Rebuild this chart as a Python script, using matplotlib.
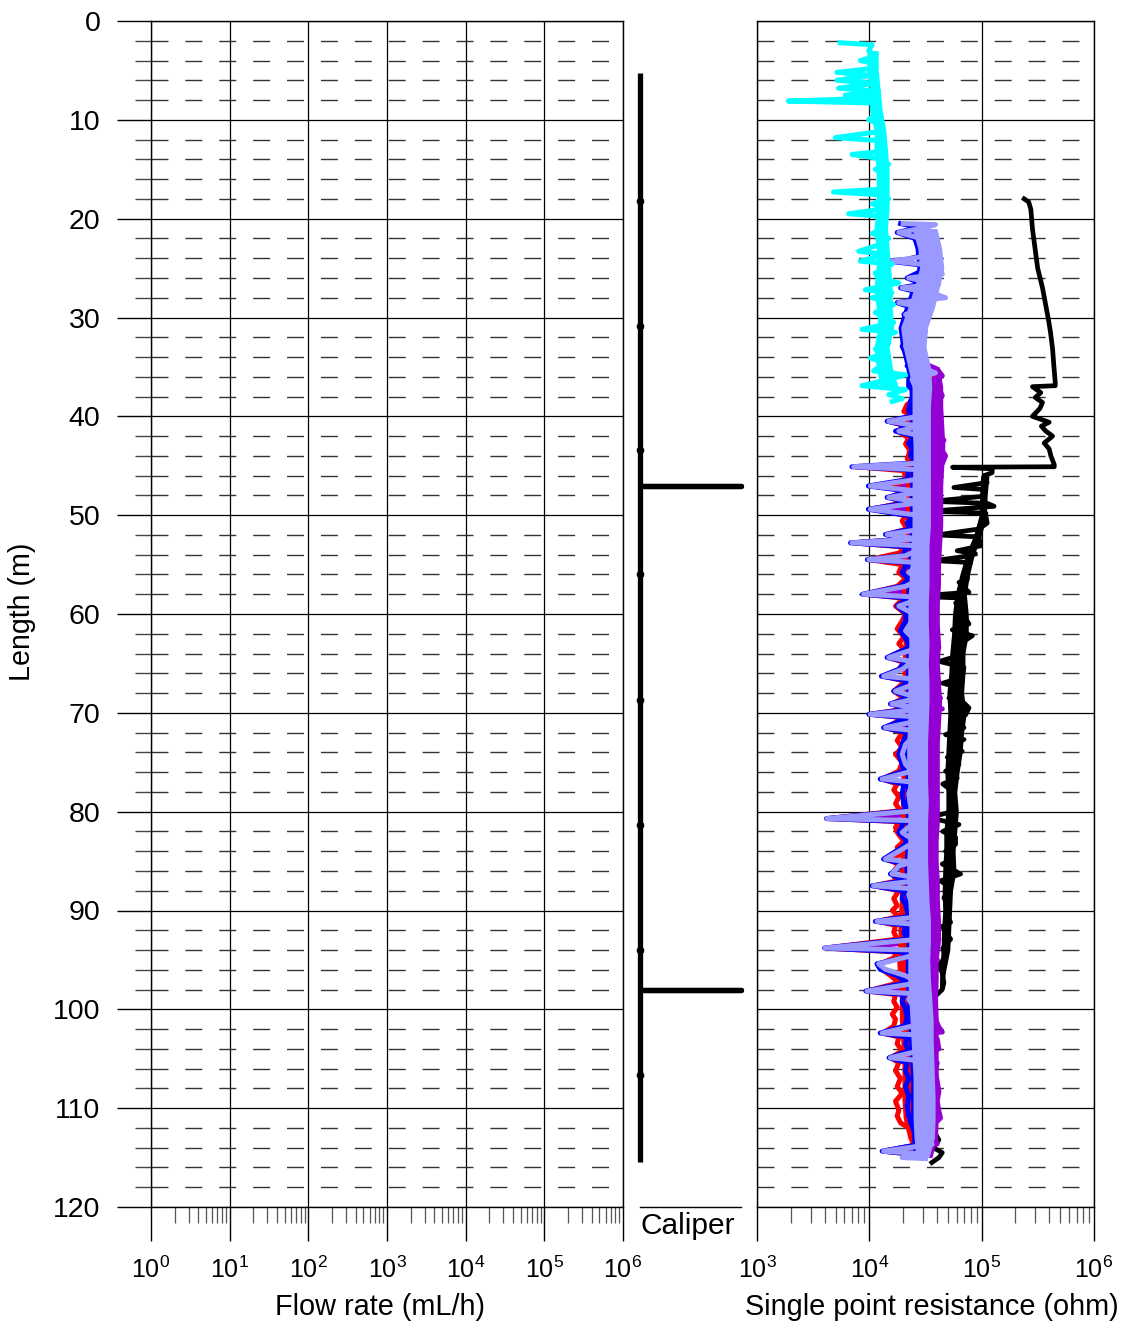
import math
import matplotlib
matplotlib.use("Agg")
import matplotlib.pyplot as plt
from matplotlib.ticker import FixedLocator, LogLocator, NullFormatter, FuncFormatter

plt.rcParams["font.family"] = ["Liberation Sans", "DejaVu Sans"]
plt.rcParams["mathtext.fontset"] = "custom"
plt.rcParams["mathtext.rm"] = "Liberation Sans"

# Caliper log (relative opening), depth in m
caliper_depth = [5.3, 47.0, 47.0, 47.0, 98.0, 98.0, 98.0, 115.4]
caliper_value = [0.0, 0.0, 1.0, 0.0, 0.0, 1.0, 0.0, 0.0]
caliper_station = [18.2, 30.9, 43.4, 56.0, 68.7, 81.3, 94.0, 106.6]

# Single point resistance logs (depth m, ohm) - traced line incl. spikes
cyan_depth = [2.2, 2.4, 3.0, 3.6, 4.0, 4.3, 4.8, 5.2, 5.5, 6.0, 6.3, 6.8, 7.1, 7.5, 7.8, 8.1, 8.3, 8.8,
              9.3, 10.0, 10.5, 11.2, 11.8, 12.1, 12.6, 13.2, 13.5, 13.9, 14.5, 15.0, 15.6, 16.3, 17.0,
              17.3, 17.6, 18.0, 18.5, 19.0, 19.5, 19.8, 20.5, 21.0, 21.5, 22.0, 22.6, 23.3, 23.6, 24.3,
              24.6, 25.5, 26.0, 26.5, 27.2, 27.5, 28.0, 28.7, 29.5, 30.0, 30.5, 31.2, 31.5, 32.0, 32.6,
              33.2, 33.6, 34.1, 34.6, 35.4, 35.8, 36.3, 36.9, 37.3, 37.8, 38.2, 38.5]
cyan_ohm = [5500, 10600, 9860, 11300, 8300, 10900, 10600, 5140, 10600, 5140, 11300, 5320, 12100, 6100,
            11300, 1900, 11300, 10600, 11700, 9860, 13000, 12100, 4970, 12100, 13400, 12500, 7000,
            12100, 14900, 11300, 13900, 13000, 13400, 4800, 13000, 14900, 10600, 13900, 6540, 13900,
            12100, 13400, 10600, 14900, 12500, 8030, 13900, 8310, 15900, 11300, 12100, 18300, 9210,
            15900, 10600, 16500, 11300, 13900, 16500, 8600, 17100, 12100, 14900, 11300, 13900, 10200,
            13900, 10900, 21000, 14400, 8600, 21000, 14900, 19600, 16000]

black_depth = [18.0, 18.3, 19.05, 21.0, 23.6, 25.0, 27.0, 29.0, 30.35, 31.5, 33.2, 35.0, 36.6, 36.9,
               37.0, 37.6, 38.1, 38.6, 39.2, 40.0, 40.6, 41.0, 41.5, 42.0, 42.7, 43.3, 44.0, 44.9,
               45.1, 45.15, 45.3, 45.7, 46.0, 46.7, 47.2, 47.4, 48.1, 48.6, 48.8, 49.1, 49.6, 49.8,
               50.1, 50.8, 51.4, 52.0, 52.2, 53.1, 53.6, 53.9, 54.1, 54.6, 54.8, 55.5, 56.5, 56.8,
               57.8, 58.2, 58.4, 58.9, 59.5, 60.0, 60.5, 61.0, 61.6, 62.2, 63.1, 64.1, 64.8, 65.4,
               66.4, 67.0, 67.5, 68.5, 69.0, 69.5, 70.2, 70.8, 71.5, 72.2, 72.7, 73.2, 73.9, 74.5,
               75.2, 75.9, 76.6, 77.2, 77.9, 78.6, 79.3, 79.9, 80.6, 81.3, 82.0, 82.6, 83.3, 84.0,
               84.8, 85.3, 86.3, 87.0, 87.7, 88.7, 89.7, 90.5, 91.2, 91.6, 92.9, 93.8, 94.6, 95.6,
               96.3, 97.3, 98.0, 99.0, 100.5, 102.0, 104.0, 106.0, 108.0, 110.0, 112.0, 113.2,
               114.0, 114.5, 115.0, 115.5]
black_ohm = [239000, 262000, 274000, 283000, 303000, 315000, 348000, 375000, 395000, 410000, 428000,
             440000, 452000, 452000, 283000, 336000, 300000, 348000, 330000, 283000, 399000, 340000,
             373000, 428000, 360000, 399000, 413000, 443000, 443000, 55000, 124000, 124000, 105000,
             112000, 56600, 105000, 101000, 36300, 112000, 129000, 35000, 109000, 109000, 112000,
             94600, 40000, 94600, 98000, 60600, 88000, 79800, 38000, 79800, 74500, 74500, 62800,
             77100, 26000, 70000, 58600, 67200, 64900, 72000, 77100, 54700, 82600, 62800, 67200,
             42000, 69600, 67200, 45000, 64900, 51100, 69600, 77100, 72000, 54700, 69600, 47700,
             69600, 54700, 67200, 49400, 62800, 47700, 60600, 45000, 54700, 56600, 58600, 58600,
             33900, 62800, 45000, 58600, 58600, 47700, 54700, 44600, 64900, 43000, 52900, 46100,
             51100, 49400, 52900, 44600, 52900, 45000, 47700, 41600, 44600, 46100, 44600, 36000,
             37000, 39000, 36000, 37000, 37000, 38000, 36000, 41600, 37000, 44600, 41600, 36000]

purple_depth = [34.6, 35.2, 35.9, 36.5, 37.2, 37.9, 38.6, 39.3, 40.0, 40.5, 41.0, 41.7, 42.4, 43.2,
                44.0, 44.8, 45.1, 45.5, 46.4, 47.05, 47.6, 48.3, 49.0, 49.4, 50.1, 50.8, 51.5, 52.0,
                52.8, 53.2, 54.0, 54.5, 55.0, 55.8, 56.5, 57.2, 58.0, 58.4, 59.2, 60.0, 60.8, 61.7,
                62.7, 63.4, 64.4, 64.9, 65.6, 66.3, 66.8, 67.8, 68.5, 69.1, 69.6, 70.15, 70.5, 71.5,
                72.0, 73.0, 74.0, 75.2, 76.0, 76.7, 77.2, 78.2, 79.3, 80.0, 80.7, 81.0, 82.1, 83.0,
                83.6, 84.8, 85.3, 86.3, 87.0, 87.5, 88.0, 88.8, 89.5, 90.3, 91.1, 91.5, 92.3, 92.9,
                93.8, 94.2, 95.0, 95.4, 96.0, 96.6, 97.3, 98.15, 98.5, 99.2, 100.0, 101.0, 101.8,
                102.3, 102.5, 103.0, 104.0, 104.9, 105.4, 106.3, 107.3, 108.3, 109.3, 110.3, 111.0,
                111.8, 112.8, 113.6, 114.3, 114.6, 115.0]
purple_ohm = [30000, 40000, 44600, 38800, 41600, 44600, 40200, 43000, 41600, 20000, 43000, 38800,
              46100, 43000, 47700, 44600, 12000, 40200, 38800, 16000, 43000, 40200, 43000, 16000,
              41600, 40200, 43000, 26000, 12000, 40200, 38800, 16000, 40200, 36300, 40200, 37500,
              14000, 40200, 37500, 38800, 36300, 37500, 40200, 41600, 27000, 37500, 36300, 25000,
              41600, 33900, 43000, 31600, 44600, 16000, 40200, 28000, 38800, 36300, 35000, 36300,
              38800, 22000, 36300, 35000, 36300, 38800, 8000, 37500, 33900, 37500, 35000, 26000,
              36300, 30000, 37500, 18000, 36300, 35000, 37500, 40200, 20000, 38800, 40200, 41600,
              8000, 38800, 40200, 25000, 30000, 33900, 38800, 16000, 36300, 35000, 37500, 38800,
              41600, 44600, 20000, 40200, 41600, 26000, 40200, 38800, 40200, 41600, 40200, 41600,
              43000, 36300, 36300, 40200, 14000, 33900, 30000]

red_depth = [35.0, 35.8, 36.5, 37.3, 38.0, 38.8, 39.5, 40.0, 40.5, 41.0, 41.5, 42.2, 42.8, 43.5,
             44.3, 44.8, 45.1, 45.5, 46.2, 46.7, 47.05, 47.5, 48.2, 48.7, 49.4, 50.0, 50.6, 51.4,
             51.95, 52.4, 52.8, 53.2, 53.8, 54.5, 55.0, 55.8, 56.4, 57.2, 58.0, 58.4, 59.2, 60.0,
             60.7, 61.5, 62.3, 63.0, 63.6, 64.4, 64.9, 65.6, 66.3, 66.8, 67.8, 68.5, 69.1, 69.6,
             70.15, 70.5, 71.5, 72.0, 72.8, 73.5, 74.2, 75.0, 75.9, 76.7, 77.2, 77.8, 78.5, 79.2,
             79.9, 80.7, 81.0, 81.6, 82.1, 83.0, 83.6, 84.3, 84.8, 85.3, 86.3, 87.0, 87.5, 88.0,
             88.8, 89.5, 90.0, 90.6, 91.1, 91.5, 92.2, 92.9, 93.8, 94.2, 94.8, 95.4, 95.95, 96.6,
             97.3, 98.15, 98.5, 99.2, 99.8, 100.5, 101.0, 101.7, 102.4, 102.8, 103.5, 104.2, 104.9,
             105.4, 106.2, 107.0, 107.8, 108.5, 109.3, 110.2, 110.8, 111.5, 112.0, 112.8, 113.6,
             114.35, 114.7, 115.0]
red_ohm = [30000, 36000, 26000, 30000, 28000, 21700, 20300, 24000, 15000, 21000, 18000, 22400, 21000,
           23200, 21700, 28000, 7500, 20300, 21000, 19600, 10500, 21700, 15000, 20300, 10500, 21000,
           19600, 21700, 14400, 21000, 7200, 19600, 18900, 10000, 19600, 18300, 21000, 17700, 9000,
           20300, 17100, 21000, 19600, 17700, 20300, 18300, 20300, 14900, 20300, 18300, 13500, 21000,
           16500, 20300, 15900, 21000, 10200, 20300, 14000, 19600, 17700, 19600, 17100, 19600, 18300,
           13000, 17700, 16500, 18300, 17100, 18900, 4300, 18300, 17100, 17700, 20300, 17700, 19600,
           14000, 18300, 15900, 17700, 11000, 18300, 16500, 17700, 16000, 18300, 12000, 17100, 16500,
           17700, 4100, 17700, 16500, 12500, 13000, 15500, 18300, 9600, 17100, 16500, 17700, 16000,
           17100, 16500, 13200, 18300, 17700, 19600, 15500, 18300, 17100, 18900, 17700, 19600, 17100,
           18300, 17700, 19000, 22400, 25000, 30000, 13400, 26000, 30000]

blue_depth = [20.5, 20.9, 21.4, 21.9, 22.3, 23.0, 23.3, 23.8, 24.1, 24.3, 24.8, 25.6, 26.0, 26.6,
              27.0, 27.5, 28.0, 28.5, 29.0, 29.7, 30.2, 30.8, 31.4, 32.2, 32.9, 33.6, 34.2, 34.9,
              35.6, 36.3, 37.0, 37.6, 38.45, 39.3, 40.0, 40.5, 41.0, 41.5, 42.0, 42.7, 43.3, 44.0,
              44.7, 45.1, 45.4, 46.4, 47.05, 47.6, 48.2, 48.7, 49.4, 50.1, 50.8, 51.4, 51.95, 52.4,
              52.8, 53.2, 54.1, 54.5, 54.8, 55.8, 56.5, 57.2, 58.0, 58.4, 59.2, 59.9, 60.7, 61.7,
              62.7, 63.4, 64.4, 64.8, 65.6, 66.3, 66.8, 67.8, 68.5, 69.1, 69.6, 70.15, 70.5, 71.5,
              72.0, 73.2, 74.2, 75.2, 75.9, 76.7, 77.2, 78.2, 79.3, 79.9, 80.7, 81.0, 82.1, 83.0,
              83.6, 84.8, 85.3, 86.3, 87.0, 87.5, 88.0, 88.8, 89.4, 90.0, 90.6, 91.1, 91.5, 92.2,
              92.9, 93.8, 94.2, 94.8, 95.4, 95.95, 96.6, 97.3, 98.15, 98.5, 99.2, 100.0, 101.0,
              101.7, 102.4, 102.8, 103.5, 104.2, 104.9, 105.4, 106.2, 107.0, 107.8, 108.8, 109.8,
              110.8, 111.8, 112.8, 113.6, 114.35, 114.7, 115.0]
blue_ohm = [19000, 28000, 17700, 24000, 30000, 29500, 27600, 28000, 22000, 15000, 35000, 25700, 21700,
            30000, 19000, 28500, 35000, 17700, 24000, 20300, 27600, 23200, 25700, 21700, 19600, 21000,
            24900, 21700, 29500, 22400, 22400, 26700, 23200, 22400, 23200, 14400, 23200, 17100, 24900,
            22400, 24000, 23200, 26700, 7000, 22400, 21700, 9800, 23200, 14400, 23200, 9800, 24000,
            21700, 23200, 13900, 22400, 6800, 21700, 19600, 9600, 21700, 19600, 22400, 18900, 8700,
            22400, 17700, 21000, 21000, 18900, 21700, 22400, 14400, 21000, 18300, 12800, 23200, 16500,
            22400, 15400, 23200, 9900, 22400, 13400, 21700, 19600, 18300, 19600, 20300, 12500, 20300,
            19600, 20300, 21700, 4150, 20300, 18300, 21700, 19600, 13400, 20300, 15400, 20300, 10600,
            20300, 19600, 21000, 21700, 22400, 11300, 21000, 20300, 21700, 4000, 21000, 19600, 11700,
            12500, 17700, 21700, 9300, 20300, 19600, 21000, 21700, 20300, 12500, 21700, 21000, 22400,
            15000, 21700, 21000, 22400, 21000, 22400, 21700, 22400, 24000, 26000, 30000, 13000, 26000,
            30000]

lilac_depth = [20.5, 20.6, 20.9, 21.4, 21.9, 22.3, 23.3, 23.8, 24.3, 24.8, 25.6, 26.0, 26.6, 27.0,
               27.5, 28.0, 28.5, 29.0, 29.7, 30.2, 30.5, 31.4, 32.2, 32.9, 33.6, 34.2, 34.9, 35.6,
               36.3, 37.0, 37.6, 38.45, 39.3, 40.0, 40.5, 41.0, 41.5, 42.0, 42.7, 43.3, 44.0, 44.7,
               45.1, 45.4, 46.4, 47.05, 47.6, 48.2, 48.7, 49.4, 50.1, 50.8, 51.4, 51.95, 52.4, 52.8,
               53.1, 53.5, 54.1, 54.5, 54.8, 55.1, 55.8, 56.5, 57.2, 58.0, 58.3, 58.5, 59.2, 59.9,
               60.7, 61.7, 62.7, 63.4, 64.4, 64.8, 65.1, 65.6, 66.3, 66.6, 66.8, 67.8, 68.5, 69.1,
               69.6, 70.15, 70.4, 70.8, 71.5, 71.8, 72.2, 73.2, 74.2, 75.2, 75.9, 76.7, 77.0, 77.2,
               78.2, 79.3, 79.9, 80.7, 80.9, 81.3, 82.1, 83.0, 83.6, 84.8, 85.1, 85.5, 86.3, 86.6,
               87.0, 87.5, 87.8, 88.4, 89.4, 90.0, 90.6, 91.1, 91.4, 91.9, 92.9, 93.8, 94.0, 94.4,
               95.4, 95.95, 96.6, 97.3, 98.15, 98.4, 99.0, 100.0, 101.0, 101.7, 102.4, 102.6, 103.05,
               104.05, 104.9, 105.2, 105.7, 106.75, 107.8, 108.8, 109.8, 110.8, 111.8, 112.8, 113.65,
               114.35, 114.6, 114.7, 115.0, 115.1]
lilac_ohm = [20000, 38800, 31600, 18300, 26700, 38800, 41600, 31600, 15900, 41600, 44600, 22400, 41600,
             19600, 36300, 47700, 18300, 29500, 21000, 31600, 26700, 31600, 29500, 21000, 24000, 31600,
             26700, 38800, 24000, 25700, 31600, 27600, 27600, 27600, 14900, 27600, 18300, 29500, 27600,
             29500, 27600, 31600, 7240, 27600, 25700, 10200, 29500, 14900, 29500, 10200, 31600, 27600,
             29500, 14400, 26700, 7000, 27600, 27600, 21000, 9900, 27600, 27600, 22400, 27600, 21000,
             8900, 27600, 27600, 18300, 24000, 24000, 21000, 25700, 27600, 14900, 24000, 22400, 19600,
             13400, 26700, 29500, 17100, 27600, 15900, 29500, 10200, 27600, 27600, 13900, 25700, 25700,
             21000, 19600, 21000, 24000, 13000, 24000, 24000, 22400, 23200, 25700, 4200, 24000, 24000,
             19600, 25700, 21000, 13900, 24000, 18300, 15900, 24000, 25700, 10900, 24000, 22400, 24000,
             27600, 29500, 11700, 25700, 25700, 27600, 4050, 26000, 27600, 12100, 13900, 21000, 27600,
             9530, 24000, 22400, 25700, 27600, 24000, 13000, 27600, 27600, 31600, 15400, 28500, 29500,
             31600, 31600, 32700, 33900, 33900, 27600, 27600, 36300, 13400, 27600, 27600, 19600, 31600]

# Dense noise core of each log (range read every 2 m: low, high in ohm)
cyan_band_depth = [3, 5, 7, 9, 11, 13, 15, 17, 19, 21, 23, 25, 27, 29, 31, 33, 35, 37]
cyan_band_lo = [9500, 9500, 10000, 10000, 11000, 11000, 11500, 11500, 11500, 11000, 11500, 11500,
                11000, 11500, 12000, 11000, 11500, 12500]
cyan_band_hi = [12000, 12000, 12500, 13000, 14000, 14500, 15000, 15000, 15000, 14500, 15000, 15500,
                16000, 16000, 16500, 15000, 16000, 18000]

black_band_depth = [46, 48, 50, 52, 54, 56, 58, 60, 62, 64, 66, 68, 70, 72, 74, 76, 78, 80, 82, 84,
                    86, 88, 90, 92, 94, 96, 98]
black_band_lo = [98000, 96000, 95000, 85000, 72000, 64000, 58000, 55000, 54000, 52000, 51000, 49000,
                 50000, 49000, 48000, 47000, 48000, 48000, 46000, 46000, 45000, 44500, 45000, 44000,
                 43500, 42500, 42000]
black_band_hi = [116000, 112000, 110000, 100000, 86000, 78000, 73000, 76000, 76000, 71000, 71000,
                 69000, 73000, 69000, 67000, 63000, 60000, 62000, 60000, 58000, 59000, 55000, 54000,
                 53000, 52000, 48000, 45000]

cluster_band_depth = list(range(21, 116, 2))
lilac_band_lo = [24000, 27000, 28000, 25000, 22000, 19000, 20000, 22000, 24000, 24000, 24000, 24500,
                 24500, 24000, 24000, 24000, 23500, 23000, 22500, 22000, 22000, 22500, 22000, 22000,
                 22000, 22000, 21500, 21500, 22000, 22000, 22000, 22000, 21500, 21500, 22000, 22500,
                 22500, 22000, 22000, 22500, 23000, 23500, 24000, 24500, 24500, 24500, 25000, 26000]
lilac_band_hi = [40000, 44000, 46000, 42000, 38000, 33000, 32000, 35000, 36000, 35000, 35000, 35000,
                 35000, 35000, 35000, 35000, 34000, 34000, 34000, 33500, 33500, 34000, 33500, 34000,
                 34000, 33500, 33000, 33000, 33000, 33500, 33000, 33000, 33000, 33500, 34000, 35000,
                 35000, 34500, 35000, 36000, 37000, 37000, 37500, 38000, 38500, 38500, 38000, 34000]
blue_band_lo = [22500, 25500, 26500, 23500, 20500, 18000, 19000, 21000, 22500, 22800, 22800, 23300,
                23300, 22800, 22800, 22800, 22300, 21800, 21300, 20900, 20900, 21300, 20900, 20900,
                20900, 20900, 20400, 20400, 20900, 20900, 20900, 20900, 20400, 20400, 20900, 21300,
                21300, 20900, 20900, 21300, 21800, 22300, 22800, 23300, 23300, 23300, 23800, 24700]
blue_band_hi = [32000, 35000, 36000, 33000, 30000, 26000, 26000, 28000, 29000, 29000, 29000, 29000,
                29000, 29000, 29000, 29000, 28000, 28000, 28000, 27000, 27000, 28000, 27000, 27000,
                27000, 27000, 27000, 27000, 27000, 27000, 27000, 27000, 27000, 27000, 28000, 28000,
                28000, 28000, 28000, 29000, 29000, 30000, 30000, 31000, 31000, 31000, 31000, 30000]

red_band_depth = list(range(39, 116, 2))
red_band_lo = [21500, 21000, 21500, 21000, 21000, 21000, 21000, 20500, 20000, 19500, 19500, 19500,
               20000, 19500, 19500, 19500, 19000, 19000, 19000, 19000, 19000, 19000, 19000, 18500,
               18500, 18500, 18000, 18000, 17500, 18000, 18500, 18500, 19000, 19500, 19500, 19500,
               20000, 22000, 26000]
red_band_hi = [27000, 27000, 27000, 27000, 27000, 27000, 27000, 26000, 26000, 26000, 25000, 25000,
               25000, 25000, 25000, 25000, 25000, 24000, 24000, 24000, 24000, 24000, 24000, 24000,
               24000, 24000, 24000, 24000, 23000, 24000, 25000, 25000, 25000, 26000, 26000, 26000,
               27000, 28000, 30000]

purple_band_depth = list(range(35, 116, 2))
purple_band_lo = [30000, 32000, 32000, 32000, 33000, 32000, 32000, 32000, 32000, 31000, 30000, 30000,
                  30000, 29000, 30000, 29000, 29000, 30000, 29000, 28000, 28000, 28000, 28000, 28000,
                  28000, 28000, 28000, 29000, 30000, 30000, 29000, 29000, 30000, 31000, 31000, 32000,
                  32000, 32000, 32000, 32000, 30000]
purple_band_hi = [42000, 45000, 45000, 46000, 47000, 46000, 45000, 45000, 45000, 44000, 43000, 43000,
                  42000, 42000, 43000, 42000, 43000, 44000, 43000, 42000, 42000, 42000, 42000, 42000,
                  41000, 41000, 42000, 42000, 43000, 43000, 41000, 41000, 40500, 41000, 41000, 41000,
                  41000, 41000, 41000, 40500, 36000]

flow_ticks = [1e0, 1e1, 1e2, 1e3, 1e4, 1e5, 1e6]
spr_ticks = [1e3, 1e4, 1e5, 1e6]
depth_ticks = list(range(0, 121, 10))

fig = plt.figure(figsize=(11.28, 13.27), dpi=100)
W, H = 1128.0, 1327.0


def px_axes(x0, x1, y0=21, y1=1207):
    return fig.add_axes([x0 / W, 1 - y1 / H, (x1 - x0) / W, (y1 - y0) / H])


def dec_fmt(v, pos):
    return r"$\mathregular{10^{%d}}$" % round(math.log10(v))


def style_log_axes(ax, lo, hi, ticks, show_y):
    ax.set_xscale("log")
    ax.set_xlim(lo, hi)
    ax.set_ylim(120, 0)
    ax.set_axisbelow(True)
    ax.xaxis.set_major_locator(FixedLocator(ticks))
    ax.xaxis.set_major_formatter(FuncFormatter(dec_fmt))
    ax.xaxis.set_minor_locator(LogLocator(base=10, subs=range(2, 10), numticks=20))
    ax.xaxis.set_minor_formatter(NullFormatter())
    ax.yaxis.set_major_locator(FixedLocator(depth_ticks))
    ax.yaxis.set_minor_locator(FixedLocator(range(0, 121, 2)))
    ax.tick_params(axis="x", which="major", direction="out", length=24.5, width=1.0,
                   labelsize=18, pad=11, top=False)
    ax.tick_params(axis="x", which="minor", direction="out", length=11.5, width=0.9,
                   color="#555555", top=False)
    if show_y:
        ax.tick_params(axis="y", which="major", direction="out", length=24.5, width=1.0,
                       labelsize=20.5, pad=12, right=False)
        ax.tick_params(axis="y", which="minor", direction="out", length=11.5, width=1.0,
                       color="#444444", right=False)
    else:
        ax.tick_params(axis="y", which="both", length=0, labelleft=False, right=False)
    ax.grid(True, axis="x", which="major", color="black", linewidth=0.9)
    ax.grid(True, axis="y", which="major", color="black", linewidth=0.9)
    ax.grid(True, axis="y", which="minor", color="#333333", linewidth=1.0,
            linestyle=(0, (12.2, 12.2)))
    for s in ax.spines.values():
        s.set_linewidth(1.0)
        s.set_color("black")


# Flow rate panel (no data)
ax1 = px_axes(151, 623)
style_log_axes(ax1, 1e0, 1e6, flow_ticks, True)

# Caliper panel
axc = px_axes(640, 741)
axc.set_xlim(0, 1)
axc.set_ylim(120, 0)
axc.set_xticks([])
axc.set_yticks([])
for side in ["top", "left", "right"]:
    axc.spines[side].set_visible(False)
axc.spines["bottom"].set_linewidth(1.0)
axc.plot(caliper_value, caliper_depth, color="black", linewidth=3.8,
         solid_capstyle="butt", clip_on=False)
axc.plot([0.0] * len(caliper_station), caliper_station, "o", color="black",
         markersize=4.5, clip_on=False)

# Single point resistance panel
ax2 = px_axes(757, 1094)
style_log_axes(ax2, 1e3, 1e6, spr_ticks, False)
lw = 3.6
logs = [
    (black_depth, black_ohm, black_band_depth, black_band_lo, black_band_hi, "black", 3.4),
    (purple_depth, purple_ohm, purple_band_depth, purple_band_lo, purple_band_hi, "#9400D3", lw),
    (red_depth, red_ohm, red_band_depth, red_band_lo, red_band_hi, "#FF0000", lw),
    (blue_depth, blue_ohm, cluster_band_depth, blue_band_lo, blue_band_hi, "#0000FF", lw),
    (lilac_depth, lilac_ohm, cluster_band_depth, lilac_band_lo, lilac_band_hi, "#9999FF", lw),
    (cyan_depth, cyan_ohm, cyan_band_depth, cyan_band_lo, cyan_band_hi, "#00FFFF", lw),
]
for i, (d, r, bd, blo, bhi, col, w) in enumerate(logs):
    z = 3 + i
    ax2.fill_betweenx(bd, blo, bhi, color=col, linewidth=0, zorder=z - 0.1)
    ax2.plot(r, d, color=col, linewidth=w, zorder=z)

# Labels
fig.text(22 / W, 1 - 612 / H, "Length (m)", rotation=90, ha="center", va="center", fontsize=20.6)
fig.text(380 / W, 1 - 1307 / H, "Flow rate (mL/h)", ha="center", va="center", fontsize=20.8)
fig.text(932 / W, 1 - 1307 / H, "Single point resistance (ohm)", ha="center", va="center",
         fontsize=20.8)
fig.text(640 / W, 1 - 1226 / H, "Caliper", ha="left", va="center", fontsize=21.5)

fig.savefig("out.png", dpi=100)
